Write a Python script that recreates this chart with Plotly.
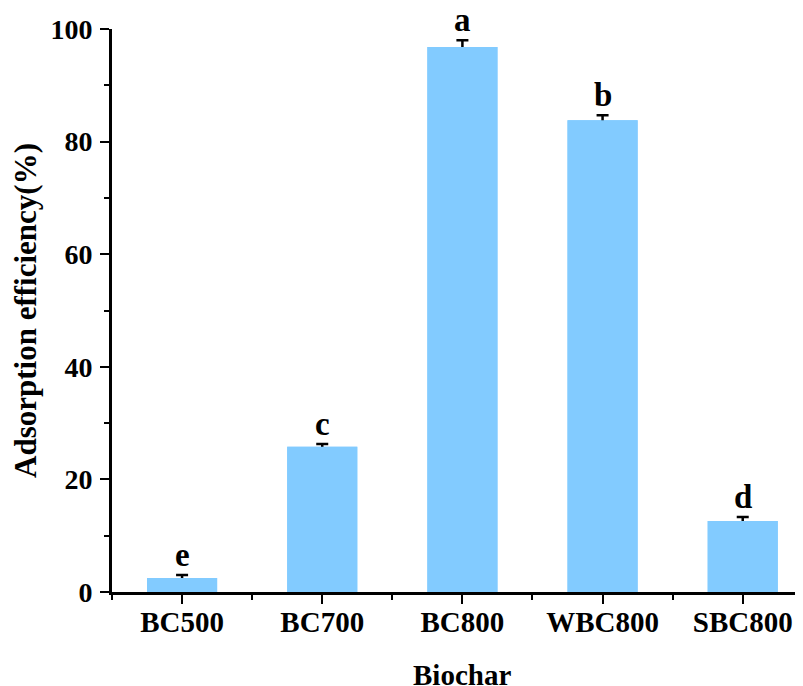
import plotly.graph_objects as go

categories = ["BC500", "BC700", "BC800", "WBC800", "SBC800"]
values = [2.5, 25.8, 96.8, 83.8, 12.6]
errors = [0.5, 0.5, 1.2, 0.9, 0.7]
letters = ["e", "c", "a", "b", "d"]
y_ticks = [0, 20, 40, 60, 80, 100]

FONT = "Liberation Serif"
BAR_COLOR = "#82CBFF"
x_pos = list(range(len(categories)))

fig = go.Figure()
# bars carrying the error bars (lower half will be hidden by the overlay bars)
fig.add_trace(go.Bar(
    x=x_pos, y=values, width=0.5,
    marker=dict(color=BAR_COLOR, line=dict(width=0)),
    error_y=dict(type="data", array=errors, color="black",
                 thickness=2.5, width=6),
))
# same bars drawn on top to hide the lower half of the error bars
fig.add_trace(go.Bar(
    x=x_pos, y=values, width=0.5,
    marker=dict(color=BAR_COLOR, line=dict(width=0)),
))

for xp, v, e, t in zip(x_pos, values, errors, letters):
    fig.add_annotation(x=xp, y=v + e, text=t, showarrow=False,
                       yanchor="bottom", yshift=0,
                       font=dict(family=FONT, size=33, color="black", weight="bold"))

# x-axis title placed as an annotation for precise vertical position
fig.add_annotation(x=2, xref="x", y=0, yref="paper", text="Biochar", showarrow=False,
                   yanchor="top", yshift=-65,
                   font=dict(family=FONT, size=29, color="black", weight="bold"))

fig.update_layout(
    width=795, height=678,
    margin=dict(l=104, r=0, t=21, b=94),
    plot_bgcolor="white", paper_bgcolor="white",
    showlegend=False, barmode="overlay",
    font=dict(family=FONT, color="black"),
)
fig.update_xaxes(
    range=[-0.5, 4.43], tickmode="array", tickvals=x_pos, ticktext=categories,
    automargin=False, ticklabelstandoff=-7,
    showgrid=False, zeroline=False, showline=True, linecolor="black", linewidth=3,
    ticks="outside", ticklen=9, tickwidth=2, tickcolor="black",
    tickfont=dict(family=FONT, size=29, color="black", weight="bold"),
    minor=dict(tickmode="array", tickvals=[-0.5, 0.5, 1.5, 2.5, 3.5], ticks="outside",
               ticklen=5, tickwidth=2, tickcolor="black"),
)
fig.update_yaxes(
    range=[0, 100], tickmode="array", tickvals=y_ticks,
    automargin=False, ticklabelstandoff=2,
    showgrid=False, zeroline=False, showline=True, linecolor="black", linewidth=3,
    ticks="outside", ticklen=9, tickwidth=2, tickcolor="black",
    tickfont=dict(family=FONT, size=28, color="black", weight="bold"),
    minor=dict(tickmode="array", tickvals=[10, 30, 50, 70, 90], ticks="outside",
               ticklen=5, tickwidth=2, tickcolor="black"),
    title=dict(text="Adsorption efficiency(%)", standoff=11,
               font=dict(family=FONT, size=31, color="black", weight="bold")),
)

fig.write_html("out.html")
